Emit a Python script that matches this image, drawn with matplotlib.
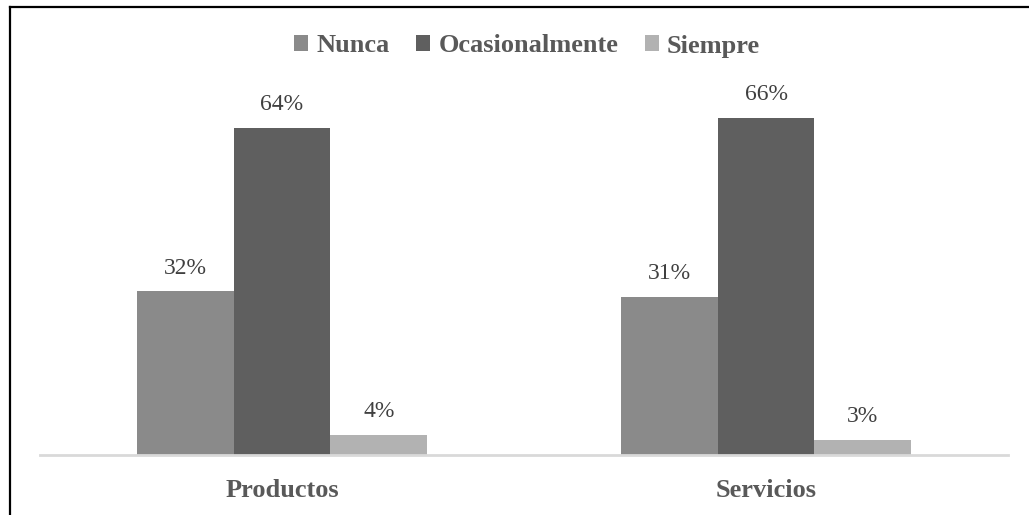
import matplotlib
matplotlib.use("Agg")
import matplotlib.pyplot as plt
from matplotlib.lines import Line2D
import numpy as np

plt.rcParams['font.family'] = ['Liberation Serif', 'DejaVu Serif']

categories = ["Productos", "Servicios"]
series_names = ["Nunca", "Ocasionalmente", "Siempre"]
values = {
    "Nunca": [32, 31],
    "Ocasionalmente": [64, 66],
    "Siempre": [4, 3],
}
colors = {"Nunca": "#8a8a8a", "Ocasionalmente": "#5f5f5f", "Siempre": "#b2b2b2"}

W, H = 1029, 515
fig = plt.figure(figsize=(W / 100, H / 100), dpi=100)
ax = fig.add_axes([40 / W, (H - 455) / H, 968 / W, 409 / H])

x = np.arange(len(categories))
width = 0.2
offsets = [-width, 0, width]
for name, off in zip(series_names, offsets):
    vals = values[name]
    bars = ax.bar(x + off, vals, width, color=colors[name], label=name, zorder=2)
    for b, v in zip(bars, vals):
        ax.annotate(f"{v}%", (b.get_x() + b.get_width() / 2, v),
                    xytext=(0, 9), textcoords="offset points",
                    ha="center", va="bottom", fontsize=17, color="#404040")

ax.set_xlim(-0.5, 1.5)
ax.set_ylim(0, 80)
ax.set_xticks(x)
ax.set_xticklabels(categories, fontsize=19, fontweight="bold", color="#595959")
ax.tick_params(axis="x", length=0, pad=17)
ax.set_yticks([])
for s in ["top", "right", "left"]:
    ax.spines[s].set_visible(False)
ax.spines["bottom"].set_color("#d9d9d9")
ax.spines["bottom"].set_linewidth(2)

leg = fig.legend(loc="center", bbox_to_anchor=(527 / W, 1 - 46 / H), ncol=3,
                 frameon=False, handlelength=0.55, handleheight=0.55,
                 handletextpad=0.3, columnspacing=1.0,
                 prop={"size": 19, "weight": "bold"})
for t in leg.get_texts():
    t.set_color("#595959")

# outer frame (top and left edges)
fig.add_artist(Line2D([9.5 / W, 1.0], [1 - 6.5 / H, 1 - 6.5 / H],
                      transform=fig.transFigure, color="black", linewidth=1.6))
fig.add_artist(Line2D([9.5 / W, 9.5 / W], [0, 1 - 6.5 / H],
                      transform=fig.transFigure, color="black", linewidth=1.6))

fig.savefig("out.png", dpi=100, facecolor="white")
